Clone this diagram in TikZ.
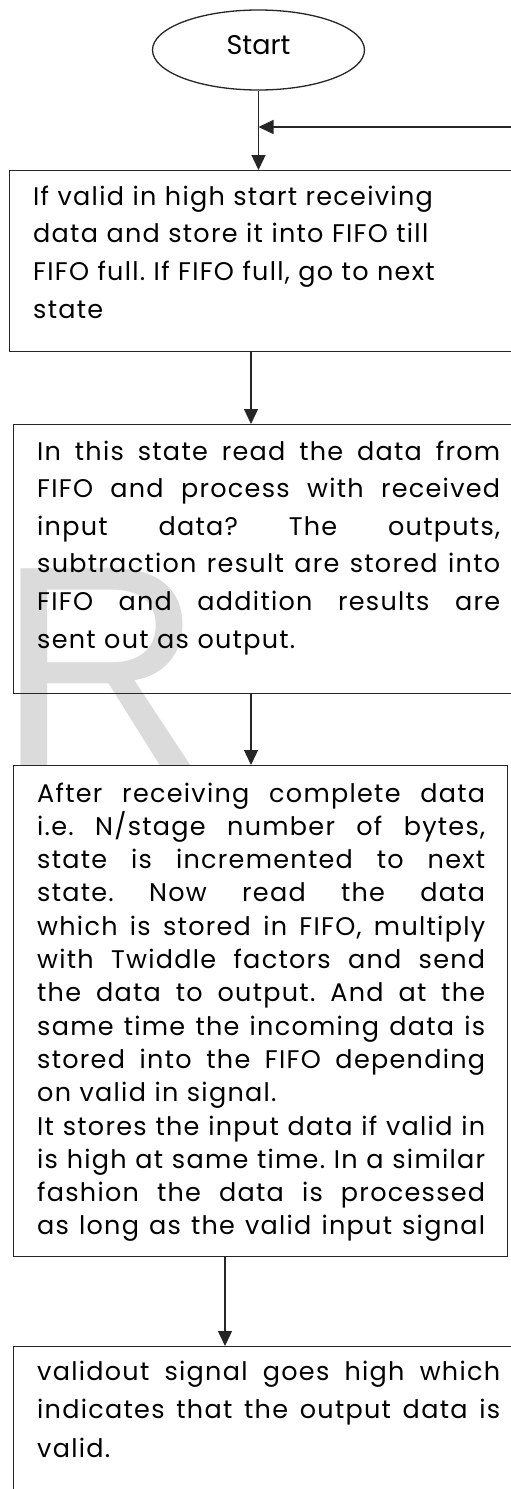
\documentclass[tikz,border=0pt]{standalone}
\usepackage{fontspec}
\setmainfont{Poppins}
\newfontfamily\wmfont{Liberation Sans}
\newfontfamily\bodyfont[LetterSpace=5]{Poppins}
\usetikzlibrary{shapes.geometric,arrows.meta}
\newlength{\linew}
\newcommand{\jline}[1]{\hbox to \linew{\spaceskip=0.25em plus 1fil\relax #1}}
\newcommand{\fline}[1]{\hbox to \linew{#1\hfil}}
\tikzset{
  boxnode/.style={draw=black!85, line width=1.3pt, inner sep=0pt, anchor=north west},
  txt/.style={inner sep=0pt, anchor=base west},
  arr/.style={draw=black!85, line width=1.3pt, -{Triangle[width=14pt,length=15pt]}},
  startnode/.style={ellipse, draw=black!85, line width=1.3pt, inner sep=0pt,
    minimum width=212pt, minimum height=80pt, text height=14pt, text depth=6pt,
    font=\fontsize{27}{30}\selectfont}
}
\begin{document}
\frenchspacing
\begin{tikzpicture}[x=1pt,y=-1pt]
\clip (0,0) rectangle (511,1489);
\fill[white] (0,0) rectangle (511,1489);
% watermark
\node[inner sep=0pt, anchor=base west, text=gray!28, font=\wmfont\fontsize{286}{290}\selectfont] (wm) at (-3,765) {R};
% nodes
\node[startnode] (start) at (258.5,50) {Start};
\node[boxnode, minimum width=530pt, minimum height=181pt] (b1) at (9,170) {};
\node[boxnode, minimum width=530pt, minimum height=269pt] (b2) at (13,424) {};
\node[boxnode, minimum width=494pt, minimum height=491pt] (b3) at (13,765) {};
\node[boxnode, minimum width=530pt, minimum height=220pt] (b4) at (13,1346) {};
% texts
\node[txt, text width=470pt, font=\bodyfont\fontsize{25.5}{37.7}\selectfont] (t1) at (33,205) {%
\setlength{\linew}{470pt}%
\fline{If valid in high start receiving}
\fline{data and store it into FIFO till}
\fline{FIFO full. If FIFO full, go to next}
\fline{state}};
\node[txt, text width=463pt, font=\bodyfont\fontsize{25.5}{37.6}\selectfont] (t2) at (37,460) {%
\setlength{\linew}{463pt}%
\jline{In this state read the data from}
\jline{FIFO and process with received}
\jline{input data? The outputs,}
\jline{subtraction result are stored into}
\jline{FIFO and addition results are}
\fline{sent out as output.}};
\node[txt, text width=448pt, font=\bodyfont\fontsize{25.5}{33.3}\selectfont] (t3) at (37,802) {%
\setlength{\linew}{448pt}%
\jline{After receiving complete data}
\jline{i.e. N/stage number of bytes,}
\jline{state is incremented to next}
\jline{state. Now read the data}
\jline{which is stored in FIFO, multiply}
\jline{with Twiddle factors and send}
\jline{the data to output. And at the}
\jline{same time the incoming data is}
\jline{stored into the FIFO depending}
\fline{on valid in signal.}
\jline{It stores the input data if valid in}
\jline{is high at same time. In a similar}
\jline{fashion the data is processed}
\jline{as long as the valid input signal}};
\node[txt, text width=463pt, font=\bodyfont\fontsize{25.5}{38.5}\selectfont] (t4) at (37,1380) {%
\setlength{\linew}{463pt}%
\jline{validout signal goes high which}
\jline{indicates that the output data is}
\fline{valid.}};
% connectors
\coordinate (fb) at (520,127);
\draw[arr] (start.south) -- (start.south |- b1.north);
\draw[arr] (fb) -- (fb -| start.south);
\draw[arr] ([xshift=242pt]b1.south west) -- ([xshift=238pt]b2.north west);
\draw[arr] ([xshift=238pt]b2.south west) -- ([xshift=238pt]b3.north west);
\draw[arr] ([xshift=212pt]b3.south west) -- ([xshift=212pt]b4.north west);
\end{tikzpicture}
\end{document}
